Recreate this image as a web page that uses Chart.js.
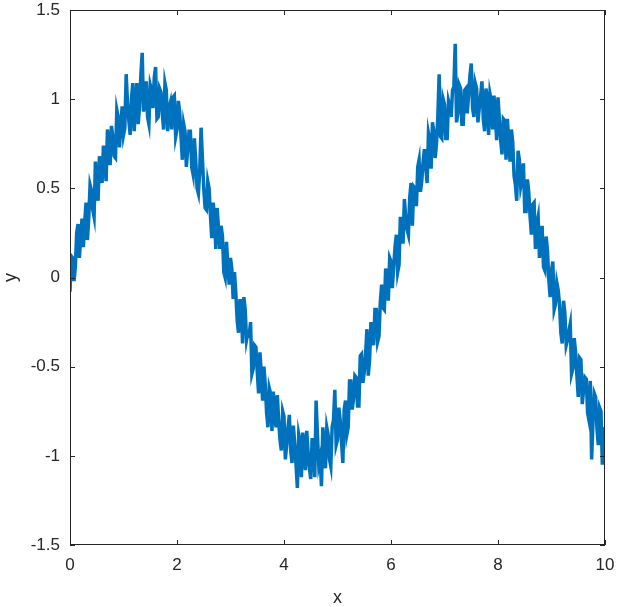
<!DOCTYPE html>
<html>
<head>
<meta charset="utf-8">
<script src="https://cdn.jsdelivr.net/npm/chart.js@4"></script>
<style>
  html, body { margin: 0; padding: 0; background: #fff; }
  #wrap { width: 619px; height: 607px; }
</style>
</head>
<body>
<div id="wrap"><canvas id="plot" width="619" height="607"></canvas></div>
<script>
const xStart = 0;
const xStep = 0.025;
const yVals = [
  -0.08, 0.12, 0.11, -0.02, 0.06, 0.25, 0.30, 0.11, 0.23, 0.33, 0.17, 0.31, 0.42, 0.21, 0.33, 0.52, 0.49, 0.38, 0.34, 0.65,
  0.55, 0.43, 0.68, 0.61, 0.53, 0.74, 0.65, 0.54, 0.83, 0.75, 0.63, 0.85, 0.79, 0.68, 0.67, 0.94, 0.90, 0.73, 0.85, 0.96,
  0.80, 0.84, 1.14, 0.98, 0.88, 0.80, 1.01, 1.09, 0.82, 0.98, 1.09, 0.86, 0.96, 1.14, 1.26, 0.93, 1.03, 1.10, 0.90, 0.86,
  1.08, 1.05, 0.95, 1.12, 1.18, 0.89, 0.90, 1.06, 1.04, 0.92, 0.83, 1.09, 1.05, 0.82, 0.95, 0.98, 0.83, 1.01, 1.02, 0.79,
  0.83, 0.99, 0.93, 0.79, 0.66, 0.86, 0.82, 0.62, 0.72, 0.82, 0.82, 0.62, 0.58, 0.78, 0.66, 0.50, 0.47, 0.60, 0.84, 0.67,
  0.50, 0.39, 0.38, 0.54, 0.50, 0.35, 0.22, 0.42, 0.36, 0.16, 0.39, 0.28, 0.16, 0.29, 0.23, 0.03, 0.00, 0.20, 0.07, -0.04,
  0.11, 0.05, -0.12, 0.03, -0.09, -0.24, -0.31, -0.13, -0.13, -0.37, -0.11, -0.18, -0.35, -0.31, -0.32, -0.25, -0.54, -0.51, -0.38, -0.39,
  -0.53, -0.65, -0.42, -0.53, -0.69, -0.50, -0.60, -0.76, -0.84, -0.62, -0.65, -0.86, -0.64, -0.73, -0.84, -0.66, -0.80, -0.91, -0.97, -0.75,
  -0.78, -1.02, -0.94, -0.84, -0.77, -0.97, -1.04, -0.83, -0.93, -1.05, -1.18, -0.88, -0.92, -1.12, -0.87, -0.94, -1.08, -0.86, -0.98, -1.07,
  -1.13, -0.91, -0.91, -1.12, -0.69, -0.88, -1.05, -1.01, -1.17, -0.84, -0.92, -1.07, -0.84, -0.88, -1.02, -1.06, -0.84, -0.80, -0.63, -0.94,
  -0.91, -0.73, -0.80, -0.92, -1.04, -0.74, -0.69, -0.88, -0.84, -0.58, -0.58, -0.74, -0.68, -0.55, -0.56, -0.72, -0.72, -0.44, -0.43, -0.59,
  -0.53, -0.43, -0.29, -0.55, -0.46, -0.25, -0.32, -0.38, -0.18, -0.18, -0.36, -0.33, -0.14, -0.04, -0.17, -0.18, 0.05, -0.01, -0.13, 0.11,
  0.09, -0.06, 0.06, 0.17, 0.24, 0.03, 0.07, 0.34, 0.26, 0.19, 0.44, 0.34, 0.27, 0.24, 0.45, 0.53, 0.29, 0.51, 0.50, 0.40,
  0.62, 0.66, 0.48, 0.54, 0.65, 0.72, 0.62, 0.53, 0.81, 0.77, 0.61, 0.87, 0.82, 0.67, 0.75, 0.90, 1.14, 0.79, 0.78, 1.00,
  0.97, 0.78, 0.78, 0.99, 0.96, 0.90, 1.05, 1.07, 1.31, 0.87, 0.92, 1.08, 1.06, 0.86, 0.86, 1.05, 1.06, 0.92, 1.02, 1.13,
  1.20, 0.95, 0.90, 1.09, 1.06, 0.87, 0.95, 1.02, 1.10, 0.89, 0.82, 1.06, 1.00, 0.80, 1.03, 0.99, 0.83, 1.02, 0.91, 0.77,
  1.01, 0.89, 0.77, 0.69, 0.89, 0.88, 0.66, 0.89, 0.77, 0.65, 0.83, 0.76, 0.57, 0.52, 0.43, 0.71, 0.66, 0.51, 0.55, 0.64,
  0.37, 0.37, 0.55, 0.48, 0.34, 0.24, 0.41, 0.42, 0.16, 0.30, 0.34, 0.11, 0.20, 0.29, 0.06, 0.04, 0.23, 0.15, -0.01, -0.11,
  0.04, 0.09, -0.18, -0.15, -0.03, -0.07, -0.15, -0.31, -0.37, -0.13, -0.20, -0.38, -0.35, -0.30, -0.26, -0.54, -0.51, -0.34, -0.42, -0.55,
  -0.67, -0.45, -0.46, -0.71, -0.63, -0.56, -0.57, -0.76, -0.80, -0.58, -1.02, -0.81, -0.65, -0.67, -0.85, -0.94, -0.73, -0.75, -1.05, -0.84,
  -0.90
];

const xTicks = [0, 2, 4, 6, 8, 10];
const yTicks = [-1.5, -1, -0.5, 0, 0.5, 1, 1.5];

const axisColor = '#262626';
const lineColor = '#0072BD';
const fontFamily = '"Liberation Sans", Arial, Helvetica, sans-serif';

const points = yVals.map((y, i) => ({ x: xStart + i * xStep, y }));

// MATLAB style box with inward ticks on all four sides
const boxPlugin = {
  id: 'box',
  afterDraw(chart) {
    const { ctx, chartArea: a, scales } = chart;
    const len = 5;
    ctx.save();
    ctx.strokeStyle = axisColor;
    ctx.lineWidth = 1;
    ctx.strokeRect(a.left + 0.5, a.top + 0.5, a.right - a.left - 1, a.bottom - a.top - 1);
    ctx.beginPath();
    xTicks.forEach(v => {
      const px = Math.round(scales.x.getPixelForValue(v)) + 0.5;
      ctx.moveTo(px, a.bottom); ctx.lineTo(px, a.bottom - len);
      ctx.moveTo(px, a.top); ctx.lineTo(px, a.top + len);
    });
    yTicks.forEach(v => {
      const py = Math.round(scales.y.getPixelForValue(v)) + 0.5;
      ctx.moveTo(a.left, py); ctx.lineTo(a.left + len, py);
      ctx.moveTo(a.right, py); ctx.lineTo(a.right - len, py);
    });
    ctx.stroke();
    ctx.restore();
  }
};

function noPad(s) {
  s.paddingLeft = 0; s.paddingRight = 0; s.paddingTop = 0; s.paddingBottom = 0;
}

new Chart(document.getElementById('plot'), {
  type: 'line',
  data: {
    datasets: [{
      data: points,
      borderColor: lineColor,
      borderWidth: 3.5,
      pointRadius: 0,
      tension: 0,
      fill: false
    }]
  },
  options: {
    responsive: false,
    animation: false,
    devicePixelRatio: 1,
    layout: { padding: { top: 10, right: 14, left: 0, bottom: 0 } },
    plugins: { legend: { display: false }, tooltip: { enabled: false } },
    scales: {
      x: {
        type: 'linear',
        min: 0,
        max: 10,
        afterBuildTicks: s => { s.ticks = xTicks.map(v => ({ value: v })); },
        afterFit: s => { s.height = 62; noPad(s); },
        grid: { display: false, drawTicks: false },
        border: { display: false },
        ticks: { color: axisColor, padding: 10, maxRotation: 0, font: { family: fontFamily, size: 17 }, callback: v => String(v) },
        title: { display: true, text: 'x', color: axisColor, padding: { top: 0, bottom: -2 }, font: { family: fontFamily, size: 18 } }
      },
      y: {
        type: 'linear',
        min: -1.5,
        max: 1.5,
        afterBuildTicks: s => { s.ticks = yTicks.map(v => ({ value: v })); },
        afterFit: s => { s.width = 70; noPad(s); },
        grid: { display: false, drawTicks: false },
        border: { display: false },
        ticks: { color: axisColor, padding: 10, font: { family: fontFamily, size: 17 }, callback: v => String(v) },
        title: { display: true, text: 'y', color: axisColor, padding: 0, font: { family: fontFamily, size: 18 } }
      }
    }
  },
  plugins: [boxPlugin]
});
</script>
</body>
</html>
